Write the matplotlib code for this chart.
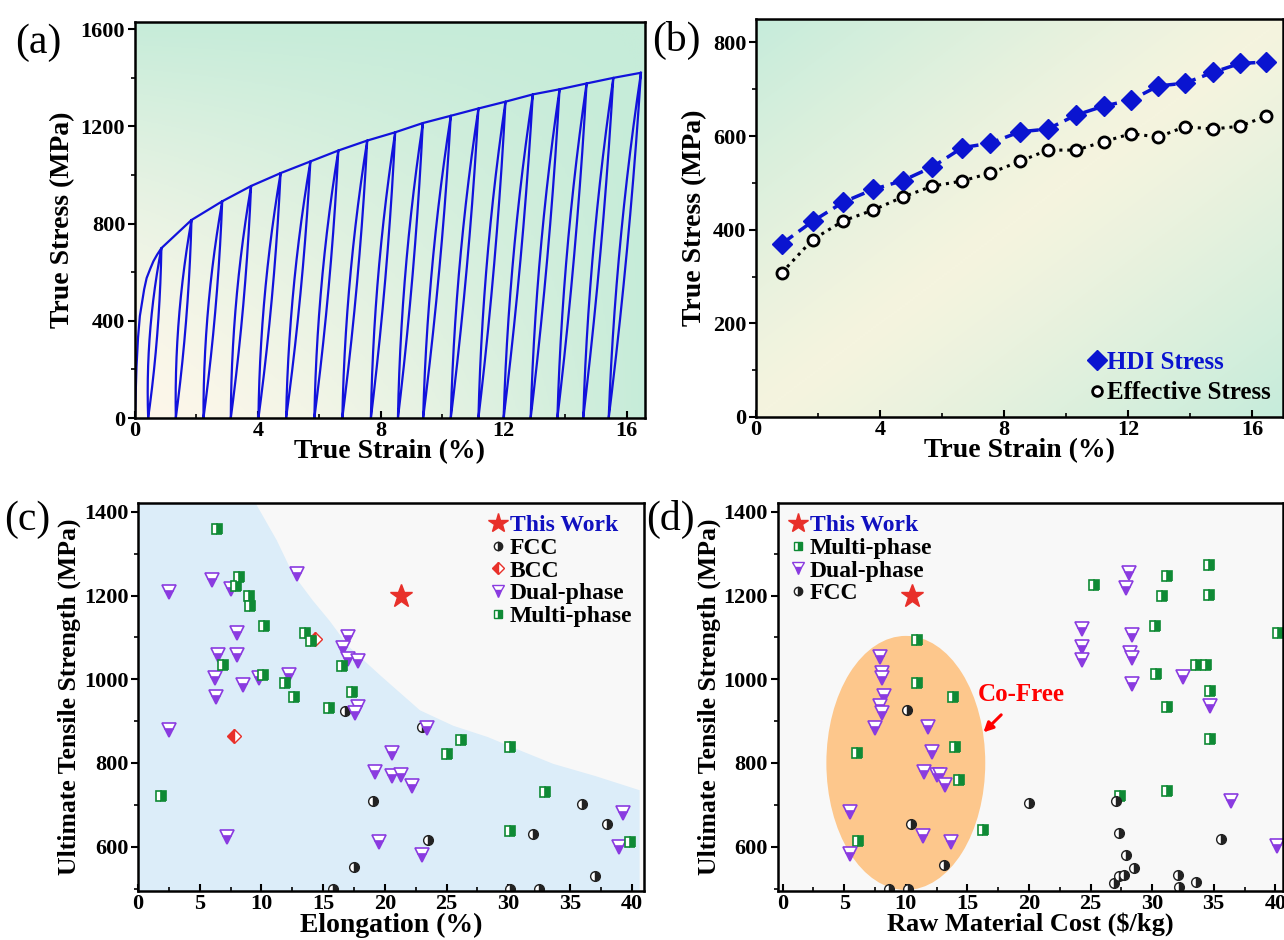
import numpy as np
import matplotlib
matplotlib.use('Agg')
import matplotlib.pyplot as plt
from matplotlib.colors import LinearSegmentedColormap
from matplotlib.patches import Ellipse
from matplotlib.lines import Line2D
from matplotlib.ticker import MultipleLocator

# ==========================================
# data
# ==========================================
# (a) loading-unloading curve
init_strain = [0, 0.05, 0.10, 0.16, 0.22, 0.30, 0.38, 0.50, 0.60, 0.72, 0.86]
init_stress = [0, 209, 330, 420, 468, 530, 576, 615, 645, 672, 699]
peak_strain = [0.86, 1.84, 2.84, 3.78, 4.74, 5.71, 6.62, 7.56, 8.47,
               9.37, 10.28, 11.18, 12.06, 12.95, 13.82, 14.70, 15.57, 16.47]
peak_stress = [699, 815, 892, 955, 1008, 1056, 1101, 1142, 1176,
               1214, 1244, 1274, 1302, 1332, 1353, 1377, 1400, 1421]
foot_strain = [0.43, 1.33, 2.23, 3.12, 4.02, 4.92, 5.84, 6.75, 7.68,
               8.56, 9.38, 10.28, 11.18, 12.00, 12.88, 13.75, 14.59, 15.42]
loop_gap = 0.24

# (b) HDI / effective stress
strain_b = [0.83, 1.83, 2.82, 3.78, 4.74, 5.69, 6.65, 7.56, 8.51,
            9.41, 10.33, 11.22, 12.10, 12.98, 13.84, 14.74, 15.61, 16.44]
hdi_stress = [370, 418, 459, 486, 505, 534, 575, 585, 609,
              615, 645, 664, 677, 707, 713, 736, 755, 758]
eff_stress = [308, 379, 419, 442, 470, 493, 504, 521, 546,
              570, 570, 588, 605, 598, 620, 615, 621, 642]

# (c) UTS vs elongation
c_this = ([21.3], [1200])
c_fcc_x = [16.8, 23.0, 19.0, 23.5, 17.5, 36.0, 38.0, 32.0, 37.0, 15.8, 30.1, 32.5]
c_fcc_y = [925, 885, 709, 616, 552, 702, 653, 630, 531, 500, 500, 500]
c_bcc_x = [7.8, 14.3]
c_bcc_y = [865, 1097]
c_dual_x = [6.0, 2.5, 7.5, 12.9, 8.0, 6.5, 8.0, 6.2, 9.8, 12.2, 8.5, 6.3, 2.5, 7.2,
            17.0, 16.6, 17.0, 17.8, 17.8, 17.6, 23.4, 20.6, 19.2, 20.6, 21.3, 22.2,
            19.5, 23.0, 39.3, 39.0]
c_dual_y = [1236, 1208, 1215, 1251, 1110, 1059, 1059, 1003, 1004, 1009, 985, 958, 879, 622,
            1102, 1074, 1048, 1043, 933, 919, 883, 823, 778, 768, 770, 746,
            611, 580, 680, 600]
c_multi_x = [6.4, 8.2, 7.9, 9.0, 9.1, 10.2, 13.5, 14.0, 6.9, 10.1, 11.9, 12.6, 15.5,
             1.9, 16.5, 17.3, 26.2, 25.0, 30.1, 33.0, 30.1, 39.9]
c_multi_y = [1358, 1245, 1223, 1199, 1174, 1127, 1110, 1092, 1033, 1010, 991, 958, 931,
             720, 1032, 970, 855, 822, 837, 730, 638, 612]
# upper edge of the blue band
band_x = [0, 9.5, 11.2, 12.5, 14.1, 15.5, 17.0, 19.6, 22.8, 25.5, 28.3, 31.0, 33.6, 37.0, 40.6]
band_y = [1421, 1421, 1333, 1253, 1190, 1140, 1080, 1010, 927, 890, 863, 830, 799, 770, 736]

# (d) UTS vs raw material cost
d_this = ([10.5], [1200])
d_multi_x = [10.9, 10.9, 13.8, 14.0, 14.3, 6.0, 6.1, 34.6, 31.2, 25.3, 30.8, 34.6,
             30.2, 40.2, 33.6, 34.4, 30.3, 34.7, 31.2, 34.7, 27.4, 31.2, 16.3]
d_multi_y = [1094, 992, 958, 838, 760, 824, 614, 1273, 1247, 1225, 1200, 1201,
             1128, 1110, 1033, 1035, 1012, 971, 933, 856, 722, 732, 640]
d_dual_x = [7.9, 8.1, 8.1, 8.2, 7.9, 8.1, 7.5, 11.8, 12.1, 11.5, 12.5, 12.8, 13.2,
            5.5, 11.4, 13.7, 5.5, 28.1, 27.9, 24.3, 28.4, 24.3, 28.2, 28.4, 24.3,
            32.5, 28.4, 34.7, 36.4, 40.1]
d_dual_y = [1052, 1016, 1004, 961, 935, 920, 884, 886, 826, 779, 770, 770, 748,
            682, 626, 612, 582, 1253, 1218, 1120, 1106, 1077, 1062, 1050, 1046,
            1006, 988, 935, 709, 602]
d_fcc_x = [10.1, 10.4, 13.1, 8.6, 10.2, 20.0, 27.1, 27.3, 35.6, 27.9, 28.5, 27.7,
           27.3, 26.9, 32.1, 33.6, 32.2]
d_fcc_y = [927, 654, 555, 500, 500, 704, 710, 632, 619, 579, 550, 532,
           530, 513, 532, 515, 503]
cofree_center = (10.0, 800)
cofree_size = (12.9, 607)

# ==========================================
# style
# ==========================================
plt.rcParams['font.family'] = ['Liberation Serif', 'DejaVu Serif']
plt.rcParams['font.weight'] = 'bold'
plt.rcParams['axes.labelweight'] = 'bold'
plt.rcParams['axes.linewidth'] = 1.8

blue = '#0a14d0'
line_blue = '#1212dc'
purple = '#8a3be0'
green = '#0f8a35'
red = '#e8302a'
dark = '#222222'

fig = plt.figure(figsize=(12.84, 9.40), dpi=100)
ax_a = fig.add_axes([0.1051, 0.5553, 0.3972, 0.4213])
ax_b = fig.add_axes([0.5888, 0.5564, 0.4104, 0.4234])
ax_c = fig.add_axes([0.1075, 0.0521, 0.3941, 0.4128])
ax_d = fig.add_axes([0.6057, 0.0521, 0.3933, 0.4128])


def gradient(ax, kind, c0, c1):
    gx, gy = np.meshgrid(np.linspace(0, 1, 200), np.linspace(0, 1, 200))
    if kind == 'corner':
        t = 1 - (1 - gx) * (1 - gy)
        t = t ** 1.6
    else:
        t = np.abs(gx - gy) ** 1.2
    cmap = LinearSegmentedColormap.from_list('bg', [c0, c1])
    ax.imshow(t, cmap=cmap, extent=[0, 1, 0, 1], transform=ax.transAxes,
              origin='lower', aspect='auto', zorder=0, vmin=0, vmax=1)


def style_axes(ax, fs=16):
    ax.tick_params(axis='x', which='both', direction='in', labelsize=fs, pad=2)
    ax.tick_params(axis='y', which='both', direction='out', labelsize=fs, pad=2)
    ax.tick_params(which='major', length=5, width=1.5)
    ax.tick_params(which='minor', length=3, width=1.2)
    for sp in ax.spines.values():
        sp.set_zorder(5)


# ---------------- (a) ----------------
gradient(ax_a, 'corner', '#fdf7ea', '#c6ecd9')
xs = list(init_strain)
ys = list(init_stress)
s = np.linspace(0, 1, 40)
for k in range(len(peak_strain)):
    p, f, sp_ = peak_strain[k], foot_strain[k], peak_stress[k]
    bulge = 4 * loop_gap * s * (1 - s)
    # unloading (right branch) then reloading (left branch)
    xs += list((f + (p - f) * s + 0.35 * bulge)[::-1])
    ys += list((sp_ * s)[::-1])
    xs += list(f + (p - f) * s - 0.65 * bulge)
    ys += list(sp_ * s)
    if k + 1 < len(peak_strain):
        xs += [peak_strain[k + 1]]
        ys += [peak_stress[k + 1]]
ax_a.plot(xs, ys, color=line_blue, lw=1.6, zorder=2)
ax_a.set_xlim(0, 16.6)
ax_a.set_ylim(0, 1630)
ax_a.xaxis.set_major_locator(MultipleLocator(4))
ax_a.xaxis.set_minor_locator(MultipleLocator(2))
ax_a.yaxis.set_major_locator(MultipleLocator(400))
ax_a.yaxis.set_minor_locator(MultipleLocator(200))
style_axes(ax_a)
ax_a.set_xlabel('True Strain (%)', fontsize=20, labelpad=-1)
ax_a.set_ylabel('True Stress (MPa)', fontsize=20, labelpad=4)

# ---------------- (b) ----------------
gradient(ax_b, 'diag', '#f5f4df', '#c6ecdb')
ax_b.plot(strain_b, hdi_stress, ls=(0, (4, 2)), lw=2.5, color=blue, marker='D',
          ms=10, mfc=blue, mec=blue, zorder=3)
ax_b.plot(strain_b, eff_stress, ls=(0, (1, 1.6)), lw=2.2, color='black', marker='o',
          ms=8, mfc='white', mec='black', mew=2, zorder=3)
ax_b.set_xlim(0, 17)
ax_b.set_ylim(0, 850)
ax_b.xaxis.set_major_locator(MultipleLocator(4))
ax_b.xaxis.set_minor_locator(MultipleLocator(2))
ax_b.yaxis.set_major_locator(MultipleLocator(200))
ax_b.yaxis.set_minor_locator(MultipleLocator(100))
style_axes(ax_b)
ax_b.set_xlabel('True Strain (%)', fontsize=20, labelpad=-1)
ax_b.set_ylabel('True Stress (MPa)', fontsize=20, labelpad=4)
hb = [Line2D([], [], ls='none', marker='D', ms=10, color=blue),
      Line2D([], [], ls='none', marker='o', ms=7, mfc='white', mec='black', mew=2)]
leg = ax_b.legend(hb, ['HDI Stress', 'Effective Stress'], loc='lower right',
                  frameon=False, fontsize=18, handlelength=0.6, handletextpad=0.1,
                  labelspacing=0.3, borderaxespad=0.1)
leg.get_texts()[0].set_color(blue)


# ---------------- (c) & (d) markers ----------------
def mk(ax, x, y, kind, **kw):
    styles = {
        'fcc': dict(marker='o', ms=7, fillstyle='right', mfc=dark, mfcalt='white', mec=dark, mew=1),
        'bcc': dict(marker='D', ms=7, fillstyle='left', mfc=red, mfcalt='white', mec=red, mew=1),
        'dual': dict(marker='v', ms=10, fillstyle='bottom', mfc=purple, mfcalt='white', mec=purple, mew=1.2),
        'multi': dict(marker='s', ms=7, fillstyle='right', mfc=green, mfcalt='white', mec=green, mew=1.2),
        'this': dict(marker='*', ms=17, color=red, mec=red),
    }
    st = dict(styles[kind])
    st.update(kw)
    return ax.plot(x, y, ls='none', zorder=4, **st)[0]


# ---------------- (c) ----------------
ax_c.set_facecolor('#f8f8f8')
ax_c.fill_between(band_x, 0, band_y, color='#dcedf9', lw=0, zorder=1)
mk(ax_c, *c_this, 'this')
mk(ax_c, c_fcc_x, c_fcc_y, 'fcc')
mk(ax_c, c_bcc_x, c_bcc_y, 'bcc')
mk(ax_c, c_dual_x, c_dual_y, 'dual')
mk(ax_c, c_multi_x, c_multi_y, 'multi')
ax_c.set_xlim(0, 41)
ax_c.set_ylim(494, 1421)
ax_c.xaxis.set_major_locator(MultipleLocator(5))
ax_c.xaxis.set_minor_locator(MultipleLocator(2.5))
ax_c.yaxis.set_major_locator(MultipleLocator(200))
ax_c.yaxis.set_minor_locator(MultipleLocator(100))
style_axes(ax_c)
ax_c.set_xlabel('Elongation (%)', fontsize=20, labelpad=-1)
ax_c.set_ylabel('Ultimate Tensile Strength (MPa)', fontsize=18.5, labelpad=2)
hc = [Line2D([], [], ls='none', marker='*', ms=15, color=red),
      Line2D([], [], ls='none', marker='o', ms=6, fillstyle='right', mfc=dark, mfcalt='white', mec=dark),
      Line2D([], [], ls='none', marker='D', ms=6, fillstyle='left', mfc=red, mfcalt='white', mec=red),
      Line2D([], [], ls='none', marker='v', ms=8, fillstyle='bottom', mfc=purple, mfcalt='white', mec=purple),
      Line2D([], [], ls='none', marker='s', ms=6, fillstyle='right', mfc=green, mfcalt='white', mec=green)]
leg = ax_c.legend(hc, ['This Work', 'FCC', 'BCC', 'Dual-phase', 'Multi-phase'],
                  loc='upper right', frameon=False, fontsize=17, handlelength=0.7,
                  handletextpad=0.15, labelspacing=0.05, borderaxespad=0.1)
leg.get_texts()[0].set_color('#1010c0')

# ---------------- (d) ----------------
ax_d.set_facecolor('#f8f8f8')
ax_d.add_patch(Ellipse(cofree_center, cofree_size[0], cofree_size[1],
                       color='#fdc78c', lw=0, zorder=1))
mk(ax_d, *d_this, 'this')
mk(ax_d, d_multi_x, d_multi_y, 'multi')
mk(ax_d, d_dual_x, d_dual_y, 'dual')
mk(ax_d, d_fcc_x, d_fcc_y, 'fcc')
ax_d.annotate('Co-Free', xy=(16.3, 873), xytext=(19.4, 963), color='red',
              fontsize=18, fontweight='bold', ha='center', va='center',
              arrowprops=dict(arrowstyle='-|>', color='red', lw=2.2,
                              shrinkA=6, shrinkB=0, mutation_scale=14))
ax_d.set_xlim(-0.4, 40.6)
ax_d.set_ylim(494, 1421)
ax_d.xaxis.set_major_locator(MultipleLocator(5))
ax_d.xaxis.set_minor_locator(MultipleLocator(2.5))
ax_d.yaxis.set_major_locator(MultipleLocator(200))
ax_d.yaxis.set_minor_locator(MultipleLocator(100))
style_axes(ax_d)
ax_d.set_xlabel(r'Raw Material Cost (\$/kg)', fontsize=19, labelpad=-1)
ax_d.set_ylabel('Ultimate Tensile Strength (MPa)', fontsize=18.5, labelpad=2)
hd = [hc[0], hc[4], hc[3], hc[1]]
leg = ax_d.legend(hd, ['This Work', 'Multi-phase', 'Dual-phase', 'FCC'],
                  loc='upper left', frameon=False, fontsize=17, handlelength=0.7,
                  handletextpad=0.15, labelspacing=0.05, borderaxespad=0.1)
leg.get_texts()[0].set_color('#1010c0')

# panel letters
for txt, x, y in [('(a)', 0.012, 0.955), ('(b)', 0.508, 0.957),
                  ('(c)', 0.003, 0.447), ('(d)', 0.503, 0.447)]:
    fig.text(x, y, txt, fontsize=30, fontweight='normal', va='center', ha='left')

fig.savefig('out.png', dpi=100)
